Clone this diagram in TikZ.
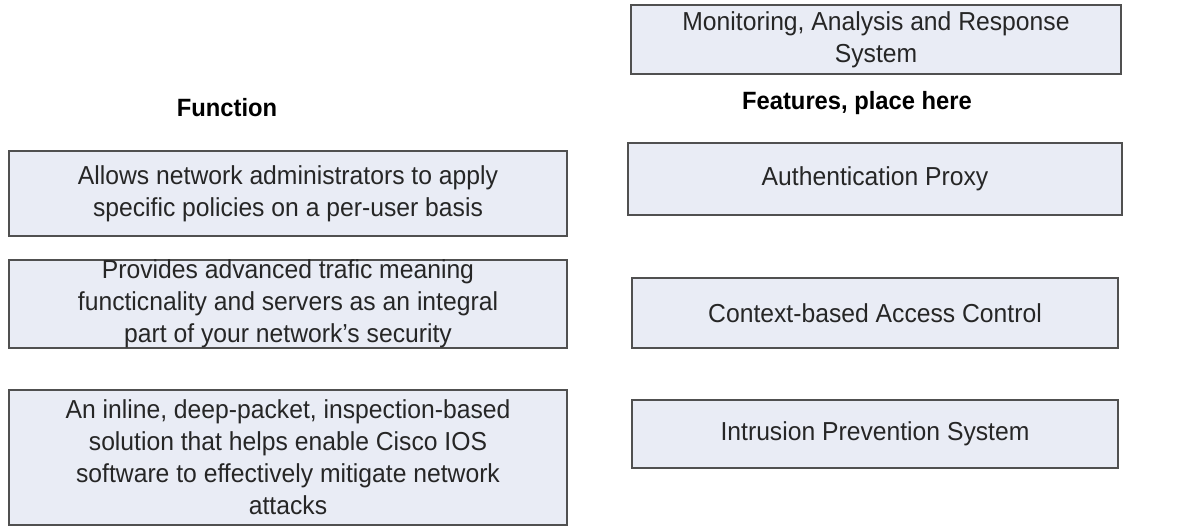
\documentclass[tikz,border=0pt]{standalone}
\usepackage{fontspec}
\setmainfont{Liberation Sans}[FakeStretch=0.95]
\definecolor{boxfill}{HTML}{E9ECF5}
\definecolor{boxline}{HTML}{505050}
\tikzset{
	cell/.style={draw=boxline, line width=1.8pt, fill=boxfill, align=center, inner sep=0pt,
		font=\fontsize{26}{32}\selectfont, text=black!85},
	heading/.style={font=\bfseries\fontsize{25}{28}\selectfont}
}
\begin{document}
\begin{tikzpicture}[x=1pt, y=-1pt]
		\useasboundingbox (0,0) rectangle (1198,527);

		% left column
		\node[heading] (fn) at (227,108) {Function};
		\node[cell, minimum width=558pt, minimum height=85pt] (f1) at (288,193.5) {Allows network administrators to apply\\specific policies on a per-user basis};
		\node[cell, minimum width=558pt, minimum height=88pt] (f2) at (288,304) {Provides advanced trafic meaning\\functicnality and servers as an integral\\part of your network's security};
		\node[cell, minimum width=558pt, minimum height=135pt] (f3) at (288,457.5) {An inline, deep-packet, inspection-based\\solution that helps enable Cisco IOS\\software to effectively mitigate network\\attacks};

		% right column
		\node[cell, minimum width=490pt, minimum height=69pt] (mars) at (876,39.5) {Monitoring, Analysis and Response\\System};
		\node[heading] (feat) at (857,103) {Features, place here};
		\node[cell, minimum width=494pt, minimum height=72pt] (proxy) at (875,179) {Authentication Proxy};
		\node[cell, minimum width=486pt, minimum height=70pt] (cbac) at (875,313) {Context-based Access Control};
		\node[cell, minimum width=486pt, minimum height=68pt] (ips) at (875,434) {Intrusion Prevention System};
	\end{tikzpicture}
\end{document}
